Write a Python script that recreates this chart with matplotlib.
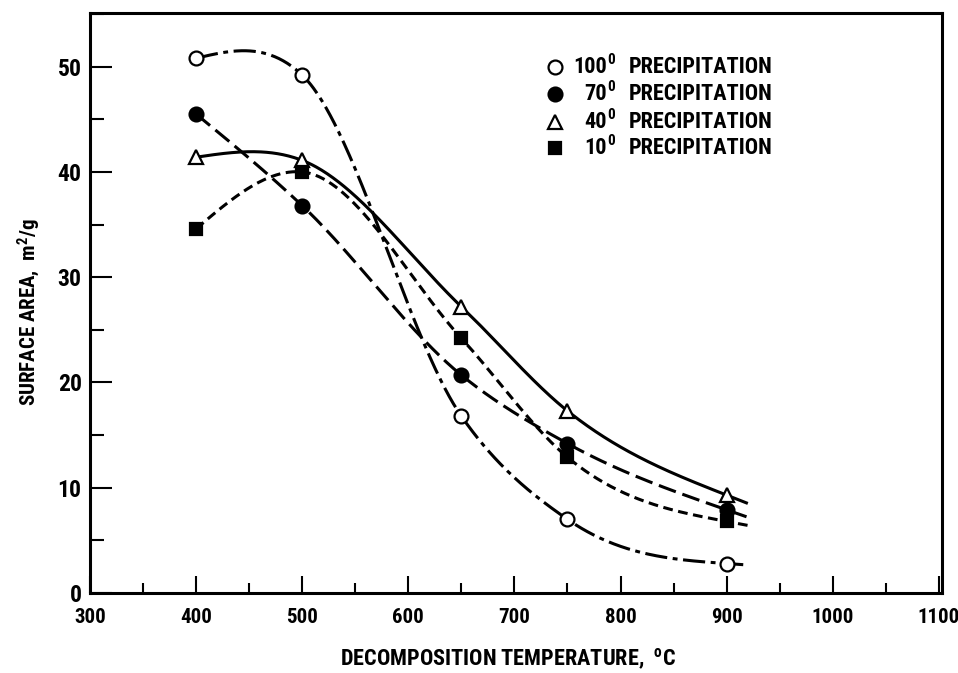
import numpy as np
import matplotlib
matplotlib.use("Agg")
import matplotlib.pyplot as plt
from matplotlib import font_manager
from matplotlib.ticker import MultipleLocator

# Decomposition temperature (deg C) and surface area (m^2/g)
temps = [400, 500, 650, 750, 900]
area_100 = [50.8, 49.2, 16.8, 7.0, 2.8]
area_70 = [45.5, 36.8, 20.7, 14.2, 7.9]
area_40 = [41.4, 41.1, 27.2, 17.3, 9.3]
area_10 = [34.6, 40.0, 24.2, 12.9, 6.8]
series_labels = ["100", "70", "40", "10"]
x_ticks = [300, 400, 500, 600, 700, 800, 900, 1000, 1100]
y_ticks = [0, 10, 20, 30, 40, 50]


def pick_narrow_font():
    """Return (family, stretch) for the narrowest sans face available."""
    for fam in ["Liberation Sans Narrow", "Roboto Condensed", "Open Sans Condensed"]:
        try:
            font_manager.findfont(font_manager.FontProperties(family=fam),
                                  fallback_to_default=False)
            return fam, "normal"
        except ValueError:
            pass
    path = font_manager.findfont(font_manager.FontProperties(
        family="DejaVu Sans", stretch="condensed"))
    if "Condensed" in path:
        return "DejaVu Sans", "condensed"
    return "Liberation Sans", "normal"


FAMILY, STRETCH = pick_narrow_font()
plt.rcParams['font.family'] = [FAMILY, 'DejaVu Sans']
plt.rcParams['font.stretch'] = STRETCH
plt.rcParams['font.weight'] = 'bold'
plt.rcParams['axes.labelweight'] = 'bold'
plt.rcParams['mathtext.fontset'] = 'custom'
plt.rcParams['mathtext.rm'] = FAMILY + ':bold'
plt.rcParams['mathtext.default'] = 'rm'
plt.rcParams['lines.scale_dashes'] = False


def hermite_curve(x, y, xs):
    """Cubic Hermite curve with three-point tangents; straight continuation past the end."""
    x = np.asarray(x, float)
    y = np.asarray(y, float)
    h = np.diff(x)
    d = np.diff(y) / h
    m = np.empty_like(y)
    m[1:-1] = (h[1:] * d[:-1] + h[:-1] * d[1:]) / (h[:-1] + h[1:])
    m[0] = (3 * d[0] - m[1]) / 2
    m[-1] = (3 * d[-1] - m[-2]) / 2
    xs = np.asarray(xs, float)
    out = np.empty_like(xs)
    for k, xv in enumerate(xs):
        if xv >= x[-1]:
            out[k] = y[-1] + m[-1] * (xv - x[-1])
            continue
        i = min(max(np.searchsorted(x, xv, side='right') - 1, 0), len(x) - 2)
        t = (xv - x[i]) / h[i]
        h00 = 2 * t ** 3 - 3 * t ** 2 + 1
        h10 = t ** 3 - 2 * t ** 2 + t
        h01 = -2 * t ** 3 + 3 * t ** 2
        h11 = t ** 3 - t ** 2
        out[k] = h00 * y[i] + h10 * h[i] * m[i] + h01 * y[i + 1] + h11 * h[i] * m[i + 1]
    return out


W, H = 958, 673
fig = plt.figure(figsize=(W / 100, H / 100), dpi=100)
ax_l, ax_r, ax_t, ax_b = 90, 942, 13, 593
ax = fig.add_axes([ax_l / W, 1 - ax_b / H, (ax_r - ax_l) / W, (ax_b - ax_t) / H])

xs = np.linspace(temps[0], 920, 400)
styles = [
    (area_100, dict(marker='o', mfc='white'), (16, 4, 3.5, 4)),
    (area_70, dict(marker='o', mfc='black'), (13, 5)),
    (area_40, dict(marker='^', mfc='white'), None),
    (area_10, dict(marker='s', mfc='black'), (7, 4)),
]


def marker_size(mk):
    return 8.5 if mk['marker'] == 's' else 10


for vals, mk, dashes in styles:
    line, = ax.plot(xs, hermite_curve(temps, vals, xs), color='black', lw=2.2,
                    solid_capstyle='butt', dash_capstyle='butt', zorder=2)
    if dashes is not None:
        line.set_dashes(dashes)
    ax.plot(temps, vals, linestyle='none', color='black', mec='black',
            mew=1.6, ms=marker_size(mk), zorder=3, **mk)

ax.set_xlim(303, 1103)
ax.set_ylim(0, 55.1)
ax.set_xticks(x_ticks)
ax.set_yticks(y_ticks)
ax.xaxis.set_minor_locator(MultipleLocator(50))
ax.yaxis.set_minor_locator(MultipleLocator(5))
ax.tick_params(axis='x', which='major', direction='in', length=12, width=1.5,
               pad=11, labelsize=15)
ax.tick_params(axis='x', which='minor', direction='in', length=7, width=1.5)
ax.tick_params(axis='y', which='major', direction='in', length=16, width=1.5,
               pad=6, labelsize=17)
ax.tick_params(axis='y', which='minor', direction='in', length=10, width=1.5)
for sp in ax.spines.values():
    sp.set_linewidth(2.2)

ax.set_xlabel("DECOMPOSITION TEMPERATURE,  $^{o}$C", fontsize=16)
ax.set_ylabel("SURFACE AREA,  m$^{2}$/g", fontsize=15)
ax.xaxis.set_label_coords((508 - ax_l) / (ax_r - ax_l), -(647 - ax_b) / (ax_b - ax_t))
ax.yaxis.set_label_coords(-(90 - 42) / (ax_r - ax_l), (ax_b - 312) / (ax_b - ax_t))


def to_axes(px, py):
    return (px - ax_l) / (ax_r - ax_l), (ax_b - py) / (ax_b - ax_t)


legend_rows = [67, 94, 122, 148]
for (vals, mk, dashes), lab, ry in zip(styles, series_labels, legend_rows):
    mx, my = to_axes(555, ry)
    ax.plot([mx], [my], transform=ax.transAxes, linestyle='none', color='black',
            mec='black', mew=1.6, ms=marker_size(mk), clip_on=False, **mk)
    nx, ny = to_axes(607, ry)
    ax.text(nx, ny, lab, transform=ax.transAxes, ha='right', va='center', fontsize=16)
    sx, sy = to_axes(607, ry - 7)
    ax.text(sx, sy, "0", transform=ax.transAxes, ha='left', va='center', fontsize=11)
    tx, ty = to_axes(629, ry)
    ax.text(tx, ty, "PRECIPITATION", transform=ax.transAxes, ha='left', va='center',
            fontsize=16)

fig.savefig("out.png", dpi=100)
